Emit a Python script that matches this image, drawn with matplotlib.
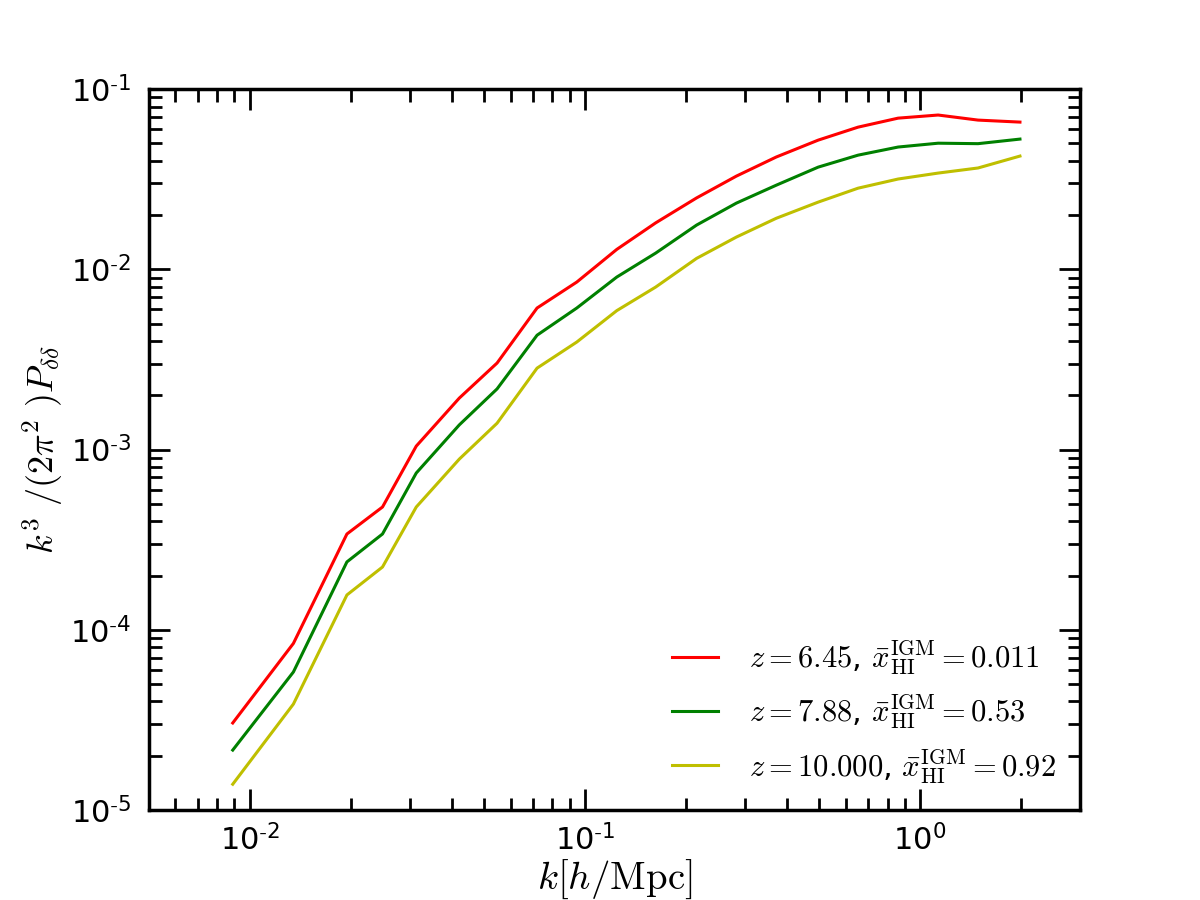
##import modules
import math
import matplotlib
matplotlib.use("Agg")
import matplotlib.pyplot as plt
from matplotlib.ticker import FuncFormatter

plt.rcParams['mathtext.fontset'] = 'cm'

##data
k = [0.0089, 0.0135, 0.0195, 0.0249, 0.0314, 0.0422, 0.0547, 0.0720, 0.0946, 0.1245,
     0.1626, 0.2154, 0.2831, 0.3724, 0.4966, 0.6531, 0.8600, 1.132, 1.489, 1.986]
p_z645 = [3.04e-5, 8.4e-5, 3.40e-4, 4.80e-4, 1.045e-3, 1.93e-3, 3.02e-3, 6.1e-3, 8.5e-3, 1.29e-2,
          1.81e-2, 2.49e-2, 3.29e-2, 4.20e-2, 5.21e-2, 6.15e-2, 6.90e-2, 7.18e-2, 6.73e-2, 6.56e-2]
p_z788 = [2.15e-5, 5.83e-5, 2.38e-4, 3.40e-4, 7.41e-4, 1.37e-3, 2.17e-3, 4.31e-3, 6.10e-3, 9.06e-3,
          1.23e-2, 1.76e-2, 2.33e-2, 2.93e-2, 3.69e-2, 4.30e-2, 4.77e-2, 5.01e-2, 4.98e-2, 5.28e-2]
p_z10 = [1.39e-5, 3.87e-5, 1.56e-4, 2.23e-4, 4.80e-4, 8.85e-4, 1.40e-3, 2.83e-3, 3.95e-3, 5.90e-3,
         7.97e-3, 1.15e-2, 1.51e-2, 1.92e-2, 2.36e-2, 2.82e-2, 3.17e-2, 3.42e-2, 3.65e-2, 4.25e-2]
labels = [r'$z=6.45$, $\bar{x}_{\rm HI}^{\rm IGM}=0.011$',
          r'$z=7.88$, $\bar{x}_{\rm HI}^{\rm IGM}=0.53$',
          r'$z=10.000$, $\bar{x}_{\rm HI}^{\rm IGM}=0.92$']
colors = [(1, 0, 0), (0, 0.5, 0), (0.75, 0.75, 0)]

##tick labels like 10^-2 with a plain hyphen
def log_label(v, pos):
    e = int(round(math.log10(v)))
    if e < 0:
        return r'$\mathdefault{10^{\text{-}%d}}$' % (-e)
    return r'$\mathdefault{10^{%d}}$' % e

##draw plot
fig = plt.figure(figsize=(12, 9), dpi=100)
fig.subplots_adjust(left=0.124, right=0.9, bottom=0.1, top=0.901)
ax = fig.add_subplot(111)
for p, lab, c in zip([p_z645, p_z788, p_z10], labels, colors):
    ax.plot(k, p, color=c, lw=2.2, label=lab)

ax.set_xscale('log')
ax.set_yscale('log')
ax.set_xlim(0.005, 3)
ax.set_ylim(1e-5, 1e-1)
ax.xaxis.set_major_formatter(FuncFormatter(log_label))
ax.yaxis.set_major_formatter(FuncFormatter(log_label))

for s in ax.spines.values():
    s.set_linewidth(2.5)
ax.tick_params(which='both', direction='in', top=True, right=True, width=2)
ax.tick_params(which='major', length=15, labelsize=22, pad=13)
ax.tick_params(axis='x', which='major', pad=10)
ax.tick_params(which='minor', length=9)

ax.set_xlabel(r'$k[h/\mathrm{Mpc}]$', fontsize=28, labelpad=1)
ax.set_ylabel(r'$k^3\ /(2\pi^2\ )P_{\delta\delta}$', fontsize=26, labelpad=4)

ax.legend(loc='lower right', frameon=False, fontsize=22, handlelength=1.5,
          handletextpad=1.0, borderaxespad=0.4, labelspacing=0.5)

plt.savefig('out.png')
